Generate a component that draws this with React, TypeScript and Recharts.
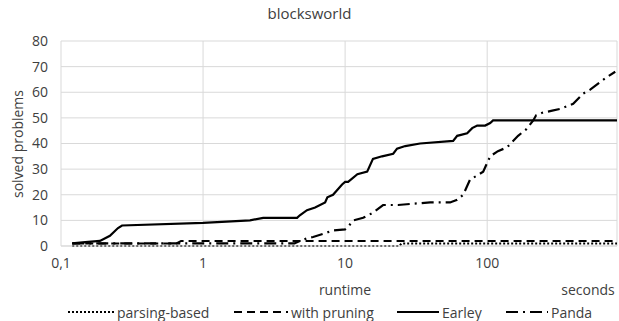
import React from 'react';
import { LineChart, Line, XAxis, YAxis, CartesianGrid } from 'recharts';

// runtime in seconds -> number of solved problems
const parsingBased = [
  { t: 0.12, v: 0 }, { t: 24, v: 0 }, { t: 25, v: 1 }, { t: 820, v: 1 },
];

const withPruning = [
  { t: 0.12, v: 1 }, { t: 0.65, v: 1 }, { t: 0.7, v: 2 }, { t: 820, v: 2 },
];

const earley = [
  { t: 0.12, v: 1 }, { t: 0.148, v: 1.5 }, { t: 0.188, v: 2 }, { t: 0.221, v: 4 },
  { t: 0.252, v: 7 }, { t: 0.269, v: 8 }, { t: 1, v: 9 }, { t: 2.14, v: 10 },
  { t: 2.65, v: 11 }, { t: 4.59, v: 11 }, { t: 4.8, v: 12 }, { t: 5.39, v: 14 },
  { t: 6.15, v: 15 }, { t: 7.23, v: 17 }, { t: 7.5, v: 19 }, { t: 8.22, v: 20 },
  { t: 9.52, v: 24 }, { t: 10, v: 25 }, { t: 10.5, v: 25 }, { t: 12.2, v: 28 },
  { t: 14.3, v: 29 }, { t: 15.7, v: 34 }, { t: 18.2, v: 35 }, { t: 21.8, v: 36 },
  { t: 23.2, v: 38 }, { t: 26.5, v: 39 }, { t: 33.7, v: 40 }, { t: 57.6, v: 41 },
  { t: 61.5, v: 43 }, { t: 72.3, v: 44 }, { t: 78.4, v: 46 }, { t: 85.1, v: 47 },
  { t: 96.8, v: 47 }, { t: 105, v: 48 }, { t: 110, v: 49 }, { t: 820, v: 49 },
];

const panda = [
  { t: 0.12, v: 1 }, { t: 4.4, v: 1 }, { t: 4.82, v: 2 }, { t: 5.4, v: 3 },
  { t: 5.95, v: 3.5 }, { t: 7.23, v: 5 }, { t: 8.1, v: 6 }, { t: 10, v: 6.5 },
  { t: 10.5, v: 7.5 }, { t: 11.4, v: 10 }, { t: 13.4, v: 11 }, { t: 15.7, v: 13 },
  { t: 18.5, v: 16 }, { t: 23.6, v: 16 }, { t: 30.1, v: 16.5 }, { t: 39.7, v: 17 },
  { t: 54.8, v: 17 }, { t: 61.5, v: 18 }, { t: 67.8, v: 20 }, { t: 75.9, v: 26 },
  { t: 85.1, v: 27.5 }, { t: 93.7, v: 29 }, { t: 105, v: 35 }, { t: 119, v: 37 },
  { t: 138, v: 38.5 }, { t: 165, v: 43 }, { t: 188, v: 45.5 }, { t: 211, v: 49 },
  { t: 221, v: 51 }, { t: 244, v: 52 }, { t: 287, v: 52.8 }, { t: 327, v: 53.5 },
  { t: 403, v: 55.5 }, { t: 474, v: 59.5 }, { t: 531, v: 61 }, { t: 625, v: 64 },
  { t: 700, v: 66 }, { t: 797, v: 68 },
];

const xTicks = [0.1, 1, 10, 100];
const yTicks = [0, 10, 20, 30, 40, 50, 60, 70, 80];

const FONT = '"Open Sans", sans-serif';
const TXT = '#404040';

const legendItems = [
  { name: 'parsing-based', dash: '2 2', x: 68, w: 46 },
  { name: 'with pruning', dash: '8 5', x: 234, w: 54 },
  { name: 'Earley', dash: undefined, x: 397, w: 42 },
  { name: 'Panda', dash: '12 5 2 5', x: 506, w: 42 },
];

export default function App() {
  return (
    <div style={{ position: 'absolute', left: 0, top: 0, width: 619, height: 321, background: '#fff', fontFamily: FONT }}>
      <LineChart width={619} height={321} margin={{ top: 41, right: 2, left: 0, bottom: 55 }}>
        <CartesianGrid stroke="#d9d9d9" strokeWidth={1} />
        <XAxis
          type="number"
          dataKey="t"
          scale="log"
          domain={[0.1, 820]}
          ticks={xTicks}
          allowDataOverflow
          tickFormatter={(v: number) => (v === 0.1 ? '0,1' : String(v))}
          tick={{ fill: TXT, fontSize: 14, fontFamily: FONT }}
          tickLine={false}
          tickSize={0}
          tickMargin={12}
          axisLine={{ stroke: '#d9d9d9' }}
          height={20}
        />
        <YAxis
          type="number"
          domain={[0, 80]}
          ticks={yTicks}
          tick={{ fill: TXT, fontSize: 14, fontFamily: FONT }}
          tickLine={false}
          axisLine={false}
          tickSize={0}
          tickMargin={13}
          width={61}
        />
        <Line data={parsingBased} dataKey="v" stroke="#000" strokeWidth={2} strokeDasharray="2 2" dot={false} isAnimationActive={false} />
        <Line data={withPruning} dataKey="v" stroke="#000" strokeWidth={2} strokeDasharray="8 5" dot={false} isAnimationActive={false} />
        <Line data={earley} dataKey="v" stroke="#000" strokeWidth={2.2} dot={false} isAnimationActive={false} />
        <Line data={panda} dataKey="v" stroke="#000" strokeWidth={2.2} strokeDasharray="12 5 2 5" dot={false} isAnimationActive={false} />
      </LineChart>

      <div style={{ position: 'absolute', left: 0, top: 3, width: 619, textAlign: 'center', fontSize: 15, color: TXT }}>
        blocksworld
      </div>
      <div
        style={{
          position: 'absolute', left: 17, top: 144, fontSize: 14, color: TXT, whiteSpace: 'nowrap',
          transform: 'translate(-50%, -50%) rotate(-90deg)',
        }}
      >
        solved problems
      </div>
      <div style={{ position: 'absolute', left: 345, top: 280, fontSize: 14, color: TXT, transform: 'translateX(-50%)' }}>
        runtime
      </div>
      <div style={{ position: 'absolute', left: 588, top: 280, fontSize: 14, color: TXT, transform: 'translateX(-50%)' }}>
        seconds
      </div>

      {legendItems.map((it) => (
        <div key={it.name} style={{ position: 'absolute', left: it.x, top: 303, height: 18, display: 'flex', alignItems: 'center', fontSize: 14, color: TXT }}>
          <svg width={it.w} height={10} style={{ marginRight: 3 }}>
            <line x1={0} y1={5} x2={it.w} y2={5} stroke="#000" strokeWidth={2} strokeDasharray={it.dash} />
          </svg>
          <span>{it.name}</span>
        </div>
      ))}
    </div>
  );
}
